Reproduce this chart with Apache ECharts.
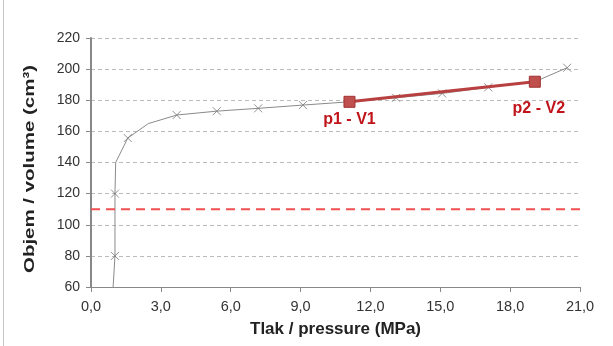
<!DOCTYPE html>
<html>
<head>
<meta charset="utf-8">
<script src="https://cdn.jsdelivr.net/npm/echarts@6/dist/echarts.min.js"></script>
<style>
html, body { margin: 0; padding: 0; background: #fff; }
#chart { width: 613px; height: 346px; }
</style>
</head>
<body>
<div id="chart"></div>
<script>
// curve through the measured points (pressure MPa, volume cm3)
var curveP = [0.95, 1.03, 1.03, 1.06, 1.58, 2.46, 3.68, 5.4, 7.18, 9.1, 11.1, 13.1, 15.08, 17.06, 19.06, 20.45];
var curveV = [60, 80, 120, 140, 155.7, 165, 170.5, 173, 174.8, 176.9, 179, 181.6, 184.4, 188.3, 191.9, 200.9];
// points marked with a cross
var markP = [1.03, 1.03, 1.58, 3.68, 5.4, 7.18, 9.1, 13.1, 15.08, 17.06, 20.45];
var markV = [80, 120, 155.7, 170.5, 173, 174.8, 176.9, 181.6, 184.4, 188.3, 200.9];
// selected states
var stateP = [11.1, 19.06];
var stateV = [179, 191.9];
var stateNames = ['p1 - V1', 'p2 - V2'];
var limitV = 110;
var xTicks = ['0,0', '3,0', '6,0', '9,0', '12,0', '15,0', '18,0', '21,0'];

function pairs(a, b) {
    return a.map(function (v, i) { return [v, b[i]]; });
}

// label placement for p1 / p2
var labelDist = [4, 13];
var labelShift = [0, 4];

var chart = echarts.init(document.getElementById('chart'));

option = {
    animation: false,
    textStyle: { fontFamily: 'Liberation Sans, Arial, sans-serif' },
    grid: { left: 91, right: 33, top: 38, bottom: 59 },
    graphic: [
        { type: 'line', shape: { x1: 3.5, y1: 0, x2: 3.5, y2: 346 }, style: { stroke: '#c8c8c8', lineWidth: 1 } },
        {
            type: 'text',
            x: 30, y: 169,
            rotation: Math.PI / 2,
            scaleX: 1.32,
            style: {
                text: 'Objem / volume (cm³)',
                font: 'bold 15.5px Liberation Sans, Arial, sans-serif',
                fill: '#222',
                align: 'center',
                verticalAlign: 'middle'
            }
        }
    ],
    xAxis: {
        type: 'value',
        min: 0, max: 21, interval: 3,
        name: 'Tlak / pressure (MPa)',
        nameLocation: 'middle',
        nameGap: 34,
        nameTextStyle: { fontSize: 17, fontWeight: 'bold', color: '#222' },
        axisLine: { lineStyle: { color: '#888', width: 1 } },
        axisTick: { show: true, length: 5, lineStyle: { color: '#888' } },
        axisLabel: {
            fontSize: 14.5, color: '#333', margin: 12,
            formatter: function (v) { return xTicks[Math.round(v / 3)]; }
        },
        splitLine: { show: false }
    },
    yAxis: {
        type: 'value',
        min: 60, max: 220, interval: 20,
        axisLine: { show: true, lineStyle: { color: '#888', width: 2 } },
        axisTick: { show: true, length: 5, lineStyle: { color: '#888' } },
        axisLabel: { fontSize: 14, color: '#333', margin: 11 },
        splitLine: { show: true, lineStyle: { color: '#bbb', type: [4, 3], width: 1 } }
    },
    series: [
        {
            type: 'line',
            data: pairs(curveP, curveV),
            symbol: 'none',
            lineStyle: { color: '#8a8a8a', width: 1 },
            z: 2
        },
        {
            type: 'scatter',
            data: pairs(markP, markV),
            symbol: 'path://M0,0L10,10M10,0L0,10',
            symbolSize: 8,
            itemStyle: { color: 'transparent', borderColor: '#777', borderWidth: 1 },
            z: 3
        },
        {
            type: 'line',
            data: [[0, limitV], [21, limitV]],
            symbol: 'none',
            lineStyle: { color: '#f05050', width: 2, type: [9, 6] },
            z: 2
        },
        {
            type: 'line',
            data: pairs(stateP, stateV).map(function (d, i) {
                return {
                    value: d,
                    label: { distance: labelDist[i], offset: [labelShift[i], 0] }
                };
            }),
            symbol: 'rect',
            symbolSize: 11,
            itemStyle: { color: '#c0504d', borderColor: '#a03030', borderWidth: 1 },
            lineStyle: { color: '#b84040', width: 3 },
            label: {
                show: true,
                formatter: function (p) { return stateNames[p.dataIndex]; },
                position: 'bottom',
                fontSize: 16,
                fontWeight: 'bold',
                color: '#c0141a'
            },
            z: 4
        }
    ]
};

chart.setOption(option);
</script>
</body>
</html>
